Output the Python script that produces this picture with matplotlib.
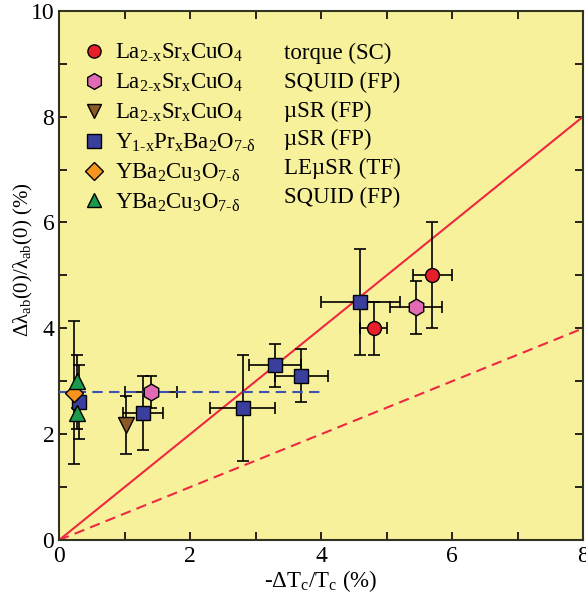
import matplotlib
matplotlib.use("Agg")
import matplotlib.pyplot as plt
from matplotlib.lines import Line2D
from matplotlib.ticker import MultipleLocator

plt.rcParams["font.family"] = ["Liberation Serif", "DejaVu Serif"]
plt.rcParams["mathtext.fontset"] = "custom"
plt.rcParams["mathtext.rm"] = "Liberation Serif"
plt.rcParams["mathtext.it"] = "Liberation Serif:italic"

# ---- data: (x, y, xerr, yerr) per series ----
lsco_torque_x = [4.8, 5.7]
lsco_torque_y = [4.0, 5.0]
lsco_torque_xerr = [0.2, 0.3]
lsco_torque_yerr = [0.5, 1.0]

lsco_squid_x = [1.4, 5.45]
lsco_squid_y = [2.8, 4.4]
lsco_squid_xerr = [0.4, 0.4]
lsco_squid_yerr = [0.3, 0.5]

lsco_musr_x = [1.02]
lsco_musr_y = [2.18]
lsco_musr_xerr = [0.0]
lsco_musr_yerr = [0.55]

ypr_x = [0.3, 1.28, 2.8, 3.3, 3.7, 4.6]
ypr_y = [2.6, 2.4, 2.5, 3.3, 3.1, 4.5]
ypr_xerr = [0.0, 0.3, 0.5, 0.4, 0.4, 0.6]
ypr_yerr = [0.7, 0.7, 1.0, 0.4, 0.5, 1.0]

ybco_lemusr_x = [0.22]
ybco_lemusr_y = [2.78]
ybco_lemusr_xerr = [0.0]
ybco_lemusr_yerr = [1.35]

ybco_squid_x = [0.27, 0.27]
ybco_squid_y = [3.0, 2.4]
ybco_squid_xerr = [0.0, 0.0]
ybco_squid_yerr = [0.5, 0.3]

plateau_x = [0.0, 4.0]
plateau_y = [2.8, 2.8]
line_x = [0.0, 8.0]
slope_full = 1.0
slope_half = 0.5

formulas = [
    r"$\mathrm{La_{2\text{-}x}Sr_xCuO_4}$",
    r"$\mathrm{La_{2\text{-}x}Sr_xCuO_4}$",
    r"$\mathrm{La_{2\text{-}x}Sr_xCuO_4}$",
    r"$\mathrm{Y_{1\text{-}x}Pr_xBa_2O_{7\text{-}δ}}$",
    r"$\mathrm{YBa_2Cu_3O_{7\text{-}δ}}$",
    r"$\mathrm{YBa_2Cu_3O_{7\text{-}δ}}$",
]
methods = ["torque (SC)", "SQUID (FP)", "µSR (FP)", "µSR (FP)", "LEµSR (TF)", "SQUID (FP)"]

COLORS = {
    "bg": "#F7F19C",
    "red": "#E91E2B",
    "pink": "#E06AB4",
    "brown": "#8C5A26",
    "blue": "#3A3E9C",
    "orange": "#F7941E",
    "green": "#1C9A4C",
    "line": "#EE2840",
    "plateau": "#3D52B4",
}

fig = plt.figure(figsize=(5.86, 6.0), dpi=100)
ax = fig.add_axes([0.101, 0.1, 0.894, 0.882])
ax.set_facecolor(COLORS["bg"])

# reference lines
ax.plot(line_x, [slope_full * v for v in line_x], color=COLORS["line"], lw=1.5, zorder=2)
ax.plot(line_x, [slope_half * v for v in line_x], color=COLORS["line"], lw=1.5, ls=(0, (5, 3)), zorder=2)
ax.plot(plateau_x, plateau_y, color=COLORS["plateau"], lw=1.5, ls=(0, (5, 3)), zorder=4)

series = [
    (lsco_torque_x, lsco_torque_y, lsco_torque_xerr, lsco_torque_yerr, "o", COLORS["red"], 10),
    (lsco_squid_x, lsco_squid_y, lsco_squid_xerr, lsco_squid_yerr, "h", COLORS["pink"], 12),
    (lsco_musr_x, lsco_musr_y, lsco_musr_xerr, lsco_musr_yerr, "v", COLORS["brown"], 11),
    (ypr_x, ypr_y, ypr_xerr, ypr_yerr, "s", COLORS["blue"], 10.5),
    (ybco_lemusr_x, ybco_lemusr_y, ybco_lemusr_xerr, ybco_lemusr_yerr, "D", COLORS["orange"], 9.5),
    (ybco_squid_x, ybco_squid_y, ybco_squid_xerr, ybco_squid_yerr, "^", COLORS["green"], 11),
]

handles = []
for xs, ys, xe, ye, mk, col, ms in series:
    ax.errorbar(xs, ys, xerr=xe, yerr=ye, fmt="none", ecolor="black", elinewidth=1.2,
                capsize=4, capthick=1.2, zorder=3)
    ax.plot(xs, ys, ls="none", marker=mk, ms=ms, mfc=col, mec="black", mew=1.0, zorder=5)
    handles.append(Line2D([], [], ls="none", marker=mk, ms=ms * 0.95, mfc=col, mec="black", mew=1.0))

# two-column legend: markers + formulas, then blank handles + methods
blank = [Line2D([], [], ls="none") for _ in methods]
leg = ax.legend(handles + blank, formulas + methods, ncol=2, loc="upper left",
                bbox_to_anchor=(0.028, 0.958), frameon=False, fontsize=16.5,
                handlelength=1.0, handletextpad=0.4, columnspacing=-0.2,
                labelspacing=0.33, borderaxespad=0.0)

ax.set_xlim(0, 8)
ax.set_ylim(0, 10)
ax.xaxis.set_major_locator(MultipleLocator(2))
ax.xaxis.set_minor_locator(MultipleLocator(1))
ax.yaxis.set_major_locator(MultipleLocator(2))
ax.yaxis.set_minor_locator(MultipleLocator(1))
ax.tick_params(which="both", direction="in", top=True, right=True, length=6, width=1.2,
               labelsize=17, colors="black")
ax.tick_params(axis="x", pad=4)
for sp in ax.spines.values():
    sp.set_linewidth(1.5)
    sp.set_color("#333322")

ax.set_xlabel(r"-ΔT$_\mathrm{c}$/T$_\mathrm{c}$ (%)", fontsize=16.5, labelpad=1)
ax.set_ylabel(r"Δλ$_\mathrm{ab}$(0)/λ$_\mathrm{ab}$(0) (%)", fontsize=15)
ax.yaxis.set_label_coords(-0.046, 0.53)

fig.savefig("out.png", dpi=100)
